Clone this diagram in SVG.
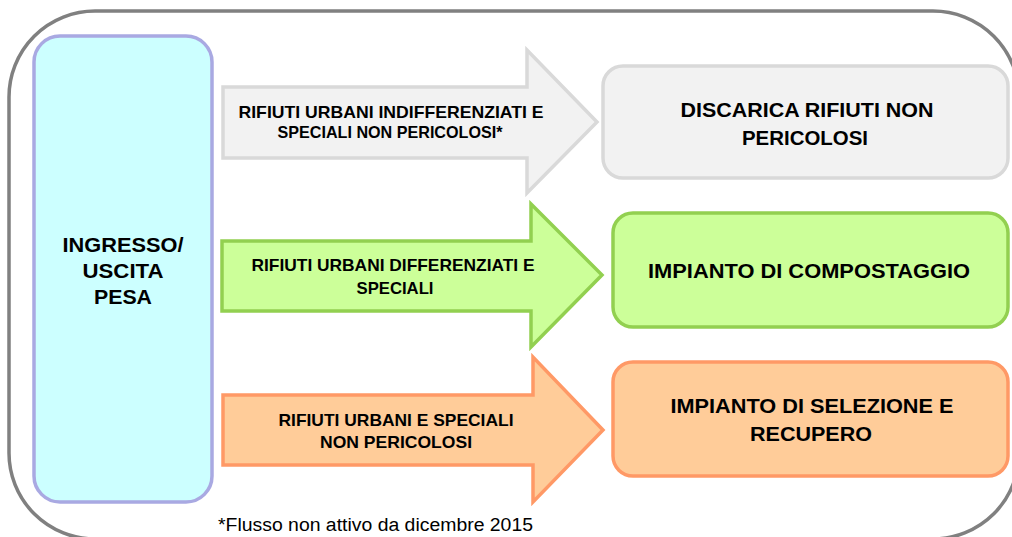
<svg xmlns="http://www.w3.org/2000/svg" width="1012" height="537" viewBox="0 0 1012 537">
<style>
text{font-family:"Liberation Sans",Arial,sans-serif;fill:#000;text-anchor:middle}
.b{font-weight:bold}
.s{font-size:16.5px}
.l{font-size:19.5px}
.gray{fill:#F2F2F2;stroke:#D9D9D9;stroke-width:3.5}
.green{fill:#CCFF99;stroke:#92D050;stroke-width:3.5}
.orange{fill:#FFCC99;stroke:#FF9966;stroke-width:3.5}
</style>
<rect width="1012" height="537" fill="#fff"/>
<g id="frame"><rect x="9" y="11" width="1010" height="528" rx="86" fill="none" stroke="#808080" stroke-width="3.5"/></g>
<g id="pesa">
<rect x="34" y="36" width="178" height="466" rx="26" fill="#CCFFFF" stroke="#A9A9E2" stroke-width="3.5"/>
<text class="b l" x="123" y="252" textLength="121" lengthAdjust="spacingAndGlyphs">INGRESSO/</text>
<text class="b l" x="123" y="278" textLength="81" lengthAdjust="spacingAndGlyphs">USCITA</text>
<text class="b l" x="123" y="304" textLength="58" lengthAdjust="spacingAndGlyphs">PESA</text>
</g>
<g id="connectors">
<g id="arrow1">
<path class="gray" d="M223 87 H527 V50 L597 122 L527 193 V158 H223 Z"/>
<text class="b s" x="391" y="118" textLength="305" lengthAdjust="spacingAndGlyphs">RIFIUTI URBANI INDIFFERENZIATI E</text>
<text class="b s" x="390" y="138" textLength="225" lengthAdjust="spacingAndGlyphs">SPECIALI NON PERICOLOSI*</text>
</g>
<g id="arrow2">
<path class="green" d="M222 241 H531 V204 L602 275 L531 347 V311 H222 Z"/>
<text class="b s" x="393" y="271" textLength="283" lengthAdjust="spacingAndGlyphs">RIFIUTI URBANI DIFFERENZIATI E</text>
<text class="b s" x="395" y="294" textLength="77" lengthAdjust="spacingAndGlyphs">SPECIALI</text>
</g>
<g id="arrow3">
<path class="orange" d="M223 395 H533 V357 L603 430 L533 502 V465 H223 Z"/>
<text class="b s" x="396" y="426" textLength="235" lengthAdjust="spacingAndGlyphs">RIFIUTI URBANI E SPECIALI</text>
<text class="b s" x="396" y="448" textLength="152" lengthAdjust="spacingAndGlyphs">NON PERICOLOSI</text>
</g>
</g>
<g id="discarica">
<rect class="gray" x="603" y="66" width="405" height="112" rx="20"/>
<text class="b l" x="807" y="117" textLength="253" lengthAdjust="spacingAndGlyphs">DISCARICA RIFIUTI NON</text>
<text class="b l" x="805" y="145" textLength="126" lengthAdjust="spacingAndGlyphs">PERICOLOSI</text>
</g>
<g id="compostaggio">
<rect class="green" x="613" y="213" width="395" height="114" rx="20"/>
<text class="b l" x="809" y="278" textLength="322" lengthAdjust="spacingAndGlyphs">IMPIANTO DI COMPOSTAGGIO</text>
</g>
<g id="selezione">
<rect class="orange" x="613" y="362" width="395" height="114" rx="20"/>
<text class="b l" x="812" y="413" textLength="283" lengthAdjust="spacingAndGlyphs">IMPIANTO DI SELEZIONE E</text>
<text class="b l" x="811" y="441" textLength="122" lengthAdjust="spacingAndGlyphs">RECUPERO</text>
</g>
<text x="218" y="531" font-size="18" style="text-anchor:start" textLength="315" lengthAdjust="spacingAndGlyphs">*Flusso non attivo da dicembre 2015</text>
</svg>
